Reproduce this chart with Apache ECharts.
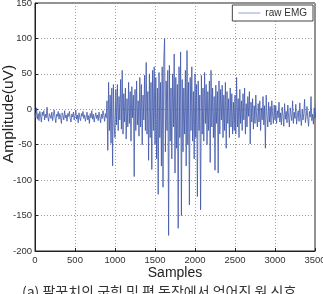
<!DOCTYPE html>
<html>
<head>
<meta charset="utf-8">
<script src="https://cdn.jsdelivr.net/npm/echarts@6/dist/echarts.min.js"></script>
<style>
  html, body { margin: 0; padding: 0; background: #fff; }
  #chart { width: 323px; height: 294px; }
</style>
</head>
<body>
<div id="chart"></div>
<script>
// raw EMG, every 10 samples
var STEP = 10
var rawEmg = [
  // 0 - 890 : rest
  -5, -12, 2, -14, -6, -16, -3, -10, -18, -4,
  -9, -2, -15, -7, -12, 3, -11, -17, -6, -9,
  -13, -4, -16, -8, -1, -12, -19, -7, -10, -3,
  -14, -6, -11, -20, -5, -9, -15, -2, -12, -8,
  -17, -6, -10, -3, -13, -18, -7, -11, -4, -15,
  -9, -1, -14, -8, -19, -5, -12, -16, -6, -10,
  -3, -13, -8, -17, -11, -4, -15, -9, -20, -6,
  -12, -2, -14, -7, -18, -10, -5, -13, -8, -16,
  -4, -11, -19, -7, -13, -2, -9, -17, -6, -12,
  // 900 - 990 : onset
  12, -58, 38, -30, 20, -48, 30, -80, 35, -25,
  // 1000 - 1490
  -40, 28, -22, 35, -30, 18, -15, 42, -28, 55,
  -35, 22, -18, 30, -42, 15, -25, 38, -20, 25,
  -45, 32, -12, 20, -95, 28, -30, 40, -22, 12,
  -38, 45, -25, 35, -50, 20, -15, 48, -30, 66,
  -35, 25, -72, 50, -40, 38, -85, 55, -30, 60,
  // 1500 - 2090 : flexion burst
  -50, 45, -70, 30, -120, 52, -40, 38, -80, 60,
  -110, 70, 100, -60, 40, -30, 55, -178, 62, -45,
  30, -70, 50, -25, 78, -90, 45, -55, 35, -168,
  60, -40, 81, -150, 42, -60, 30, -35, 55, -80,
  83, -50, 38, -135, 45, -30, 60, -45, 25, -70,
  50, -40, 35, -123, 40, -30, 20, -142, 48, -35,
  // 2100 - 2490
  30, -45, 52, -20, 35, -50, 25, -30, 40, -75,
  55, -25, 30, -40, 18, -86, 34, -20, 25, -90,
  40, -35, 28, -15, 34, -40, 20, -30, 38, -55,
  25, -20, 15, -40, 30, -25, 22, -35, 10, -30,
  // 2500 - 2990
  20, -35, 45, -25, 15, -40, 28, -20, 12, -30,
  22, -15, 30, -35, 8, -25, 18, -10, 25, -49,
  10, -18, 15, -28, 5, -20, 20, -12, -25, 8,
  -18, 12, -30, 2, -15, 18, -22, 5, -55, 20,
  -10, -25, 10, -18, 4, -22, 12, -8, -20, 6,
  // 3000 - 3490 : rest
  -15, 5, -20, -2, -12, 10, -18, -5, -22, 3,
  -10, -24, 8, -14, -3, -19, 6, -11, -25, 2,
  -8, -16, 12, -20, -4, -13, 7, -21, -9, -2,
  -17, 9, -12, -23, 0, -15, -6, 14, -19, -10,
  4, -14, -24, -3, -11, 18, -16, -7, -21, 2,
  -13, -5, 15, -20, -9, -26, 6, -12, -3, -18,
  10, -15, -22, 1, -8, -17, 12, -11, -24, -4,
  8, -14, -20, 5, -10, -27, 3, -16, -6, 16,
  -12, -22, -2, -9, 20, -18, -7, -15, 4, -25,
  -10, 12, -19, -5, -30, 2, -13, 22, -41, 8
]
var xTicks = [0, 500, 1000, 1500, 2000, 2500, 3000, 3500]
var yTicks = [-200, -150, -100, -50, 0, 50, 100, 150]
var seriesName = 'raw EMG'
var yTitle = 'Amplitude(uV)'
var caption = '(a) 팔꿈치의 굽힘 및 폄 동작에서 얻어진 원 신호'

var points = rawEmg.map(function (v, i) { return [i * STEP, v] })

var gridLine = { show: true, lineStyle: { color: '#9a9a9a', type: [1, 2], width: 1 } }
var plain = function (v) { return String(v) }
var chart = echarts.init(document.getElementById('chart'))
chart.setOption({
  animation: false,
  textStyle: { fontFamily: 'Liberation Sans' },
  grid: {
    left: 35, right: 8, top: 3, bottom: 43,
    outerBoundsMode: 'none', containLabel: false,
    show: true, borderColor: '#222', borderWidth: 1
  },
  legend: {
    right: 10, top: 5,
    data: [seriesName],
    icon: 'rect', itemWidth: 22, itemHeight: 1,
    borderColor: '#444', borderWidth: 1, backgroundColor: '#fff',
    padding: [3, 6, 3, 6],
    textStyle: { fontSize: 10, color: '#333' }
  },
  xAxis: {
    type: 'value',
    min: xTicks[0], max: xTicks[xTicks.length - 1], interval: 500,
    name: 'Samples', nameLocation: 'middle', nameGap: 15, nameMoveOverlap: false,
    nameTextStyle: { fontSize: 14, color: '#222', verticalAlign: 'top' },
    axisLine: { onZero: false, lineStyle: { color: '#222' } },
    axisTick: { inside: true, length: 3 },
    axisLabel: { fontSize: 9.5, color: '#333', margin: 4, formatter: plain },
    splitLine: gridLine
  },
  yAxis: {
    type: 'value',
    min: yTicks[0], max: yTicks[yTicks.length - 1], interval: 50,
    axisLine: { show: true, onZero: false, lineStyle: { color: '#222' } },
    axisTick: { show: true, inside: true, length: 3 },
    axisLabel: { fontSize: 9.5, color: '#333', margin: 3, formatter: plain },
    splitLine: gridLine
  },
  series: [{
    name: seriesName,
    type: 'line',
    data: points,
    showSymbol: false,
    lineStyle: { color: '#3f57a8', width: 0.8 },
    itemStyle: { color: '#8fa0d0' }
  }],
  graphic: [{
    type: 'text', x: 9, y: 114, rotation: Math.PI / 2,
    style: {
      text: yTitle, fontSize: 15.5, fill: '#222', fontFamily: 'Liberation Sans',
      align: 'center', verticalAlign: 'middle'
    }
  }, {
    type: 'text', left: 22, top: 285,
    style: { text: caption, fontSize: 14, fill: '#333', fontFamily: 'Noto Sans CJK KR' }
  }]
})
</script>
</body>
</html>
